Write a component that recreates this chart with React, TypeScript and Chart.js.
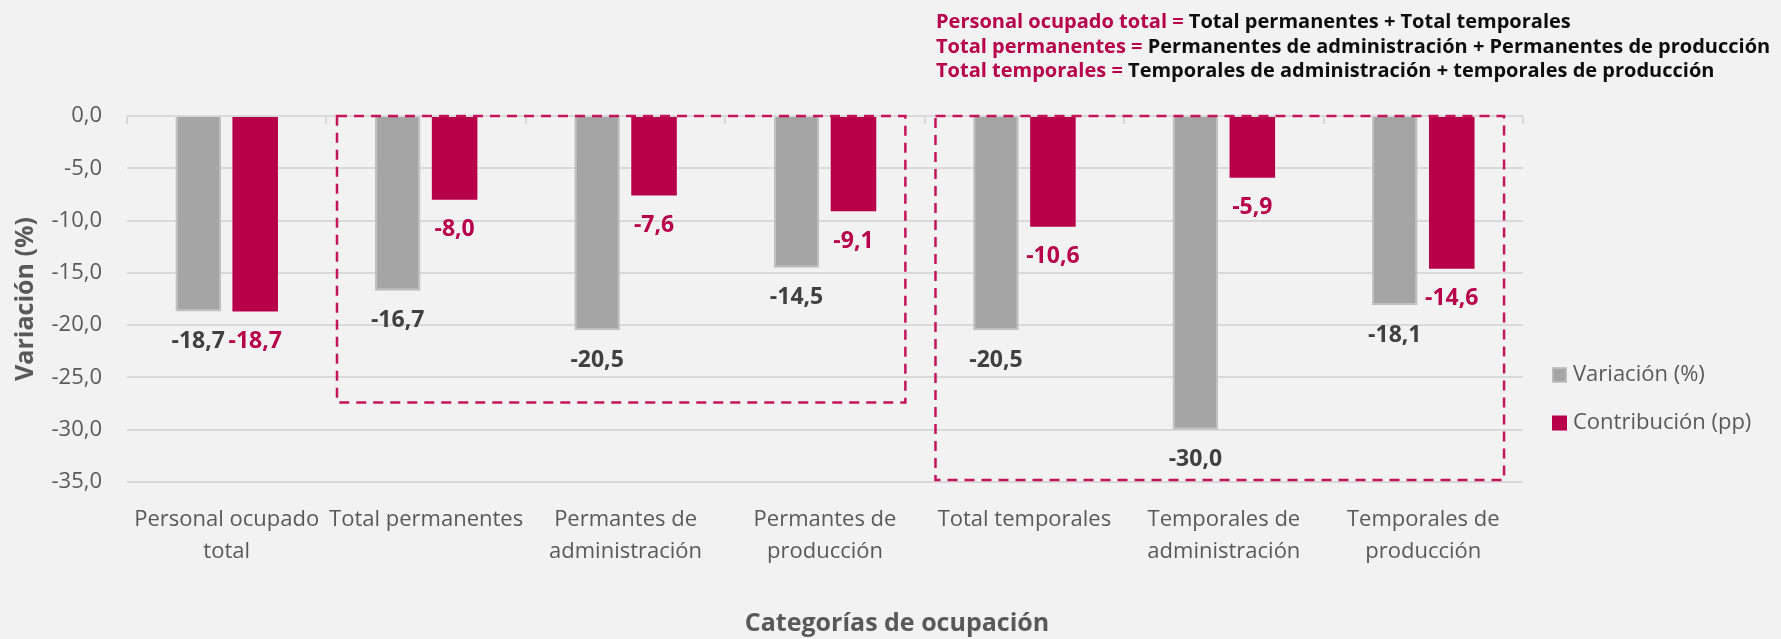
import { useEffect, useRef } from 'react';
import { Chart, registerables } from 'chart.js';

Chart.register(...registerables);

const categories: string[][] = [
  ['Personal ocupado', 'total'],
  ['Total permanentes'],
  ['Permantes de', 'administración'],
  ['Permantes de', 'producción'],
  ['Total temporales'],
  ['Temporales de', 'administración'],
  ['Temporales de', 'producción'],
];
const seriesLabels = ['Variación (%)', 'Contribución (pp)'];
const variacion = [-18.7, -16.7, -20.5, -14.5, -20.5, -30.0, -18.1];
const contribucion = [-18.7, -8.0, -7.6, -9.1, -10.6, -5.9, -14.6];
const yMin = -35;
const yMax = 0;
const yStep = 5;
// dashed group frames, in category index units and value units
const groupFrom = [0.553, 3.554];
const groupTo = [3.403, 6.405];
const groupBottom = [-27.4, -34.8];
const noteKeys = ['Personal ocupado total = ', 'Total permanentes = ', 'Total temporales = '];
const noteValues = [
  'Total permanentes + Total temporales',
  'Permanentes de administración + Permanentes de producción',
  'Temporales de administración + temporales de producción',
];
const yTitle = 'Variación (%)';
const xTitle = 'Categorías de ocupación';

const FONT = "'Open Sans', 'Noto Sans', sans-serif";
const GRAY = '#A5A5A5';
const GRAY_BORDER = '#BFBFBF';
const RED = '#B8004A';
const FRAME = '#C4145A';
const AXIS_TEXT = '#595959';
const GRID = '#D9D9D9';

const fmt = (v: number) => v.toFixed(1).replace('.', ',');

const extrasPlugin = {
  id: 'extras',
  afterDatasetsDraw(chart: any) {
    const { ctx, chartArea } = chart;
    const xs = chart.scales.x;
    const ys = chart.scales.y;
    ctx.save();
    // category boundary tick marks on the zero line
    ctx.strokeStyle = GRID;
    ctx.lineWidth = 2;
    for (let i = 0; i <= categories.length; i++) {
      const x = Math.round(xs.getPixelForValue(i - 0.5));
      ctx.beginPath();
      ctx.moveTo(x, ys.getPixelForValue(0));
      ctx.lineTo(x, ys.getPixelForValue(0) + 8);
      ctx.stroke();
    }
    // data labels
    ctx.font = `bold 23px ${FONT}`;
    ctx.textAlign = 'center';
    ctx.textBaseline = 'middle';
    chart.data.datasets.forEach((ds: any, di: number) => {
      const meta = chart.getDatasetMeta(di);
      ctx.fillStyle = di === 0 ? '#404040' : RED;
      meta.data.forEach((bar: any, i: number) => {
        ctx.fillText(fmt(ds.data[i]), bar.x, bar.y + 30);
      });
    });
    // dashed frames
    ctx.strokeStyle = FRAME;
    ctx.lineWidth = 2.5;
    ctx.setLineDash([10, 7]);
    for (let g = 0; g < groupFrom.length; g++) {
      const x1 = xs.getPixelForValue(groupFrom[g]);
      const x2 = xs.getPixelForValue(groupTo[g]);
      const y1 = ys.getPixelForValue(0);
      const y2 = ys.getPixelForValue(groupBottom[g]);
      ctx.strokeRect(x1, y1, x2 - x1, y2 - y1);
    }
    ctx.setLineDash([]);
    // legend
    ctx.textAlign = 'left';
    ctx.textBaseline = 'middle';
    ctx.font = `22px ${FONT}`;
    const legX = chartArea.right + 29;
    chart.data.datasets.forEach((ds: any, di: number) => {
      const cy = 375 + di * 48;
      ctx.fillStyle = ds.backgroundColor;
      ctx.fillRect(legX, cy - 7.5, 15, 15);
      if (di === 0) {
        ctx.strokeStyle = GRAY_BORDER;
        ctx.lineWidth = 1.5;
        ctx.strokeRect(legX + 0.75, cy - 6.75, 13.5, 13.5);
      }
      ctx.fillStyle = AXIS_TEXT;
      ctx.fillText(seriesLabels[di], legX + 21, cy);
    });
    // x title
    ctx.font = `bold 25px ${FONT}`;
    ctx.textAlign = 'center';
    ctx.fillStyle = AXIS_TEXT;
    ctx.fillText(xTitle, 897, 624);
    // notes
    ctx.textAlign = 'left';
    ctx.textBaseline = 'alphabetic';
    ctx.font = `bold 20px ${FONT}`;
    noteKeys.forEach((k, i) => {
      const y = 28 + i * 24.5;
      ctx.fillStyle = RED;
      ctx.fillText(k, 936, y);
      const w = ctx.measureText(k).width;
      ctx.fillStyle = '#0D0D0D';
      ctx.fillText(noteValues[i], 936 + w, y);
    });
    ctx.restore();
  },
};

export default function App() {
  const ref = useRef<HTMLCanvasElement | null>(null);
  useEffect(() => {
    document.body.style.margin = '0';
    document.body.style.background = '#F2F2F2';
    if (!ref.current) return;
    const chart = new Chart(ref.current, {
      type: 'bar',
      data: {
        labels: categories,
        datasets: [
          {
            label: seriesLabels[0],
            data: variacion,
            backgroundColor: GRAY,
            borderColor: GRAY_BORDER,
            borderWidth: 2,
            categoryPercentage: 0.571,
            barPercentage: 0.8,
          },
          {
            label: seriesLabels[1],
            data: contribucion,
            backgroundColor: RED,
            borderWidth: 0,
            categoryPercentage: 0.571,
            barPercentage: 0.8,
          },
        ],
      },
      options: {
        animation: false,
        responsive: true,
        maintainAspectRatio: false,
        layout: { padding: { left: 0, right: 258, top: 116, bottom: 0 } },
        plugins: {
          legend: { display: false },
          tooltip: { enabled: false },
        },
        scales: {
          x: {
            grid: { display: false, drawTicks: false },
            border: { display: false },
            ticks: {
              color: AXIS_TEXT,
              font: { family: FONT, size: 22, lineHeight: 1.45 },
              padding: 22,
              maxRotation: 0,
              autoSkip: false,
            },
            afterFit: (s: any) => {
              s.height = 157;
            },
          },
          y: {
            min: yMin,
            max: yMax,
            grid: { color: GRID, lineWidth: 2, drawTicks: false },
            border: { display: false },
            ticks: {
              stepSize: yStep,
              color: AXIS_TEXT,
              font: { family: FONT, size: 22 },
              padding: 25,
              callback: (v: any) => fmt(Number(v)),
            },
            title: {
              display: true,
              text: yTitle,
              color: AXIS_TEXT,
              font: { family: FONT, size: 25, weight: 'bold' },
              padding: { top: 11, bottom: 0 },
            },
            afterFit: (s: any) => {
              s.width = 127;
            },
          },
        },
      },
      plugins: [extrasPlugin],
    });
    return () => chart.destroy();
  }, []);
  return (
    <div style={{ width: 1781, height: 639, position: 'relative', background: '#F2F2F2' }}>
      <canvas ref={ref} />
    </div>
  );
}
